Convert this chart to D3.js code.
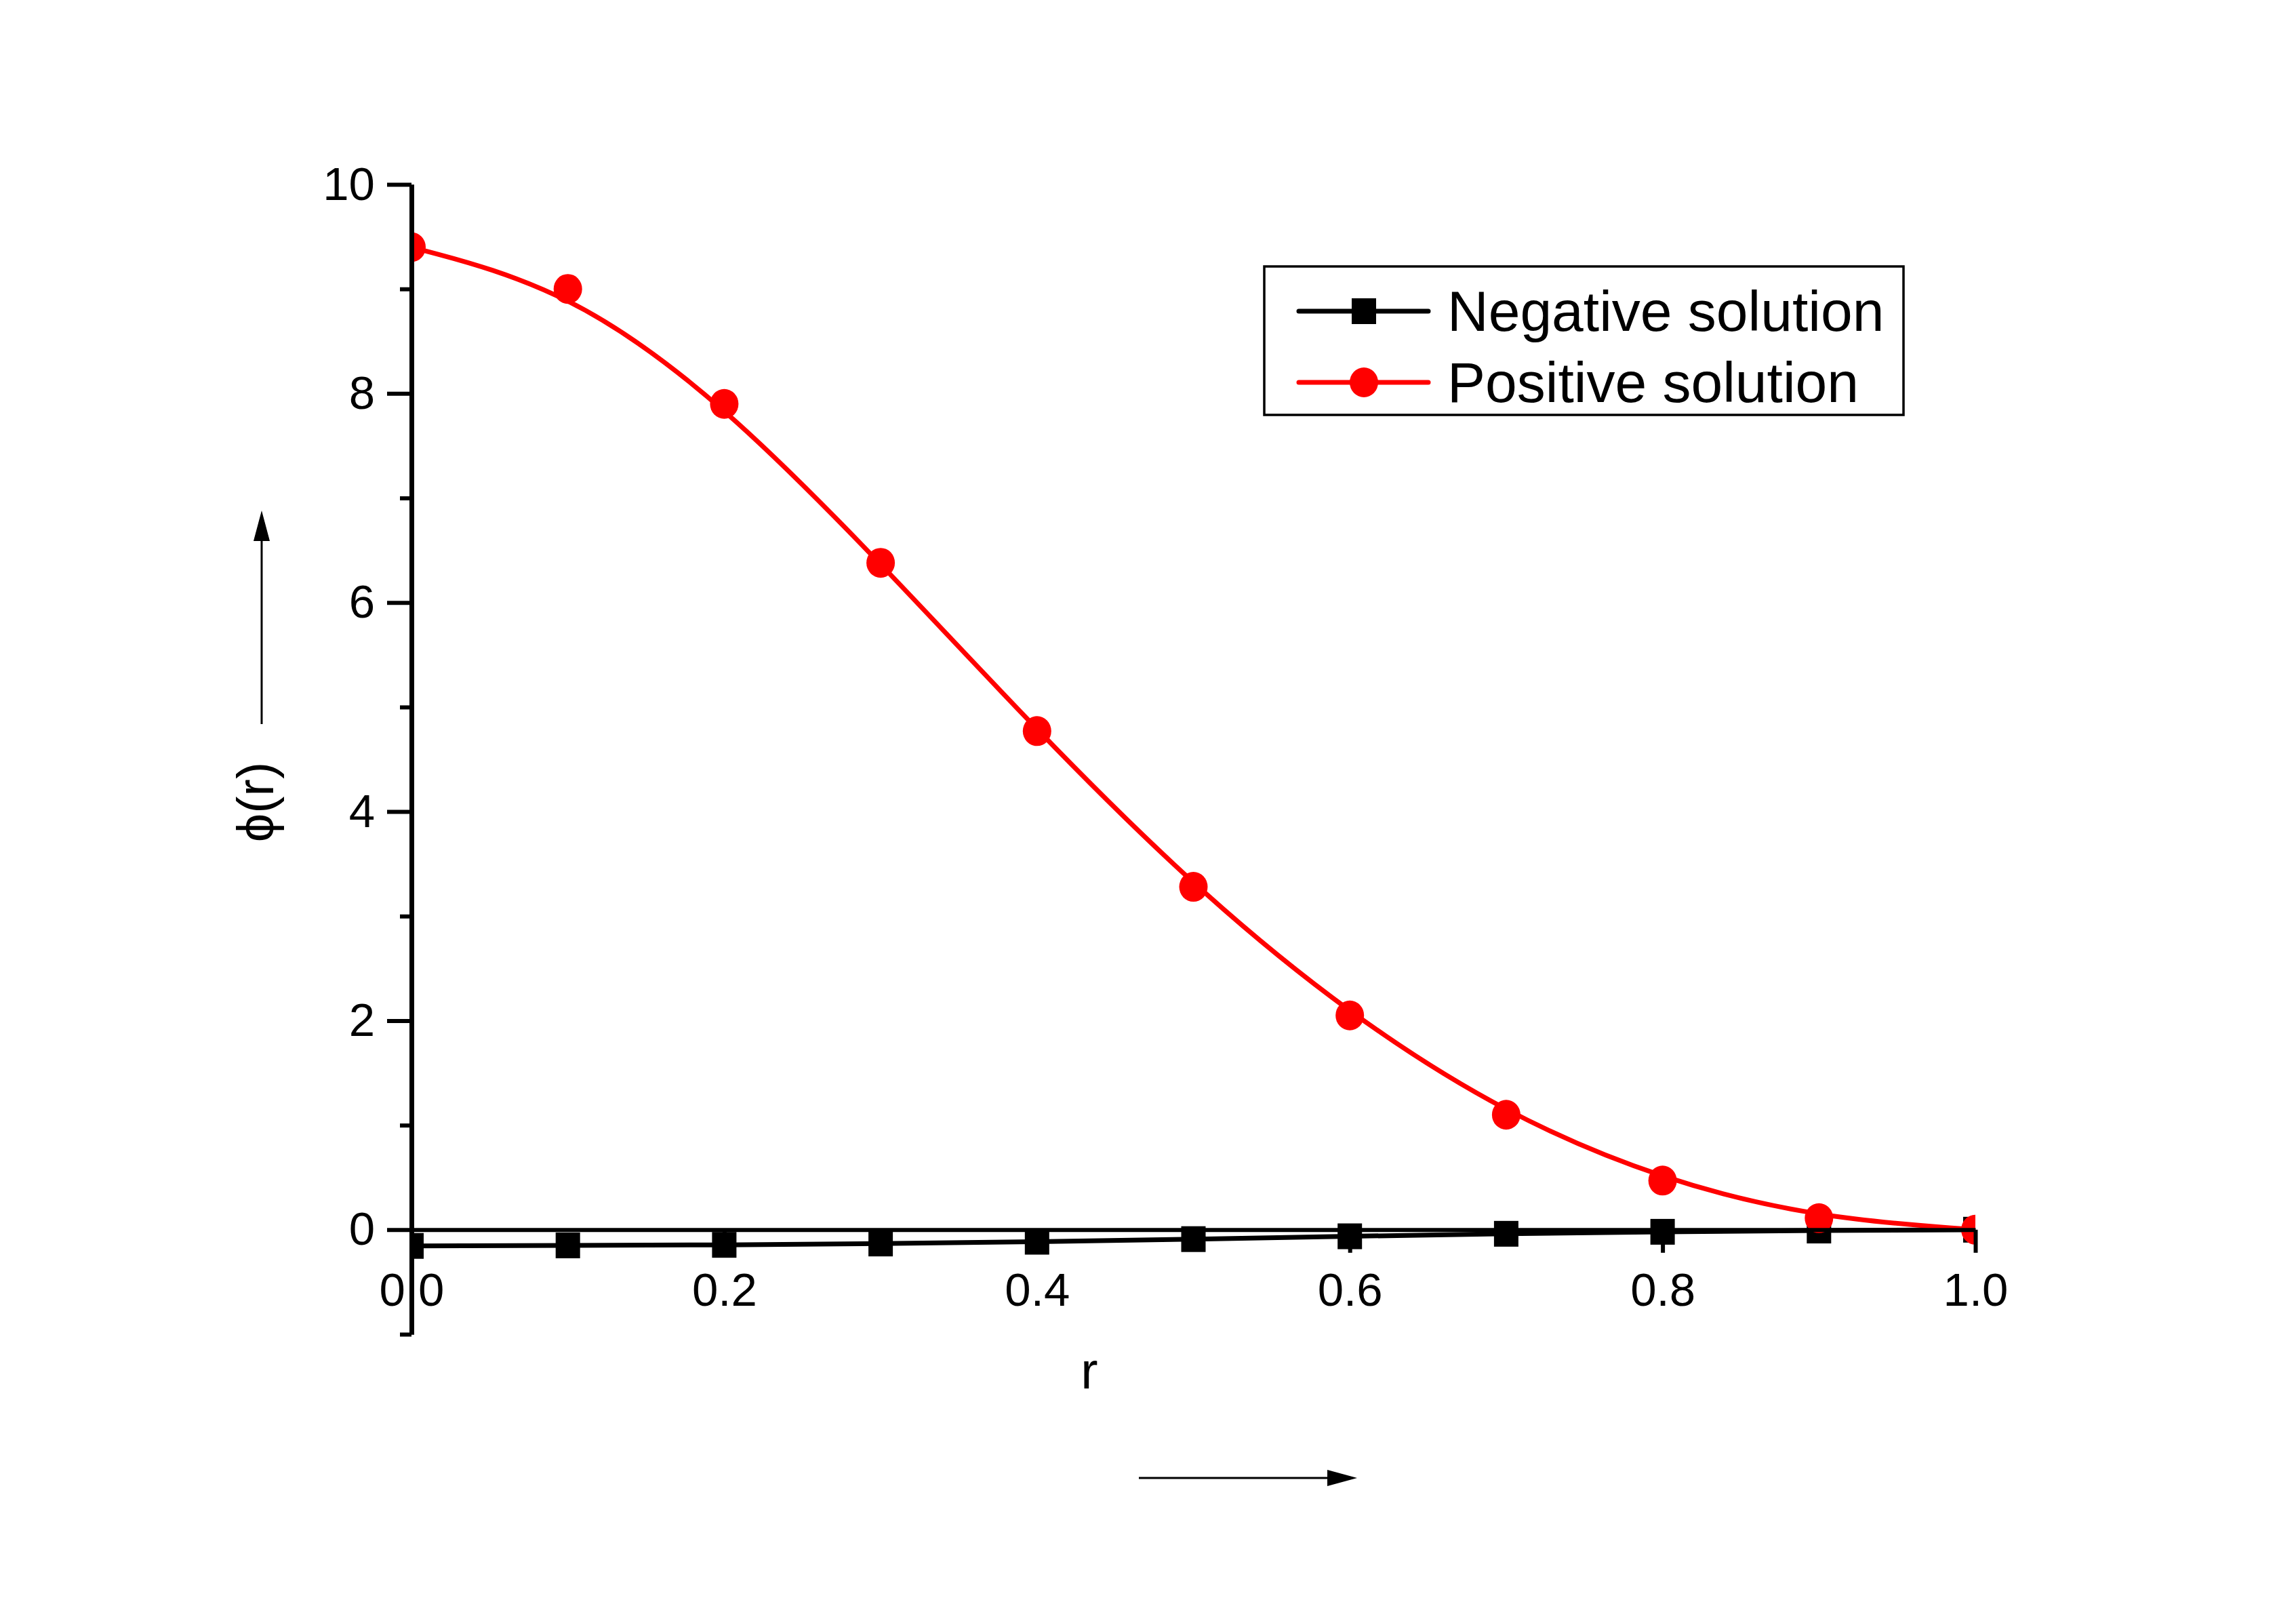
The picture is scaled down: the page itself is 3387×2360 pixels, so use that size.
<!DOCTYPE html>
<html>
<head>
<meta charset="utf-8">
<script src="https://cdn.jsdelivr.net/npm/d3@7"></script>
<style>
  body { margin: 0; background: #fff; }
  text { font-family: "Liberation Sans", Arial, sans-serif; }
</style>
</head>
<body>
<script>
// values
var rValues = [0.0, 0.1, 0.2, 0.3, 0.4, 0.5, 0.6, 0.7, 0.8, 0.9, 1.0];
var positiveSolution = [9.40, 9.00, 7.90, 6.38, 4.77, 3.28, 2.05, 1.10, 0.47, 0.11, 0.0];
var negativeSolution = [-0.155, -0.150, -0.145, -0.132, -0.115, -0.090, -0.063, -0.039, -0.020, -0.008, 0.0];
var xTicks = [0.0, 0.2, 0.4, 0.6, 0.8, 1.0];
var yMajorTicks = [0, 2, 4, 6, 8, 10];
var yMinorTicks = [-1, 1, 3, 5, 7, 9];
var seriesNames = ["Negative solution", "Positive solution"];
var seriesColors = ["#000000", "#ff0000"];

var width = 3387, height = 2360;

var svg = d3.select("body")
	.append("svg")
	.attr("width", width)
	.attr("height", height);

svg.append("rect")
	.attr("width", width)
	.attr("height", height)
	.attr("fill", "#fff");

var xScale = d3.scaleLinear().domain([0, 1]).range([607, 2914]);
var yScale = d3.scaleLinear().domain([-1, 10]).range([1968, 272]);

var negData = rValues.map(function(r, i){ return {r: r, v: negativeSolution[i]}; });
var posData = rValues.map(function(r, i){ return {r: r, v: positiveSolution[i]}; });

// clip to the plot area (markers at r=0 and r=1 are cut in half)
svg.append("clipPath")
	.attr("id", "plotClip")
	.append("rect")
	.attr("x", xScale(0))
	.attr("y", yScale(10))
	.attr("width", xScale(1) - xScale(0))
	.attr("height", yScale(-1) - yScale(10));

var plot = svg.append("g").attr("clip-path", "url(#plotClip)");

// negative solution : straight segments + squares
plot.append("path")
	.datum(negData)
	.attr("fill", "none")
	.attr("stroke", seriesColors[0])
	.attr("stroke-width", 7)
	.attr("d", d3.line()
		.x(function(d){ return xScale(d.r); })
		.y(function(d){ return yScale(d.v); }));

plot.selectAll(".sq")
	.data(negData)
	.enter().append("rect")
	.attr("class", "sq")
	.attr("x", function(d){ return xScale(d.r) - 18; })
	.attr("y", function(d){ return yScale(d.v) - 19; })
	.attr("width", 36)
	.attr("height", 38)
	.attr("fill", seriesColors[0]);

// x axis sits on y = 0
var xAxis = svg.append("g")
	.attr("transform", "translate(0," + yScale(0) + ")")
	.call(d3.axisBottom(xScale)
		.tickValues(xTicks)
		.tickFormat(d3.format(".1f"))
		.tickSize(34)
		.tickSizeOuter(0)
		.tickPadding(29));
xAxis.select(".domain").attr("stroke-width", 6);
xAxis.selectAll(".tick line").attr("stroke-width", 6);
xAxis.selectAll("text")
	.attr("font-size", 69)
	.attr("font-family", "'Liberation Sans', Arial, sans-serif");

// positive solution : spline + circles
plot.append("path")
	.datum(posData)
	.attr("fill", "none")
	.attr("stroke", seriesColors[1])
	.attr("stroke-width", 7)
	.attr("d", d3.line()
		.curve(d3.curveBasis)
		.x(function(d){ return xScale(d.r); })
		.y(function(d){ return yScale(d.v); }));

plot.selectAll(".dot")
	.data(posData)
	.enter().append("ellipse")
	.attr("class", "dot")
	.attr("cx", function(d){ return xScale(d.r); })
	.attr("cy", function(d){ return yScale(d.v); })
	.attr("rx", 21)
	.attr("ry", 22)
	.attr("fill", seriesColors[1]);

// y axis, minor ticks first then major with labels
var yMinor = svg.append("g")
	.attr("transform", "translate(" + xScale(0) + ",0)")
	.call(d3.axisLeft(yScale)
		.tickValues(yMinorTicks)
		.tickFormat("")
		.tickSize(17)
		.tickSizeOuter(0));
yMinor.selectAll(".tick line").attr("stroke-width", 6);
yMinor.select(".domain").attr("stroke-width", 7);

var yMajor = svg.append("g")
	.attr("transform", "translate(" + xScale(0) + ",0)")
	.call(d3.axisLeft(yScale)
		.tickValues(yMajorTicks)
		.tickFormat(d3.format("d"))
		.tickSize(36)
		.tickSizeOuter(0)
		.tickPadding(18));
yMajor.select(".domain").attr("stroke-width", 7);
yMajor.selectAll(".tick line").attr("stroke-width", 6);
yMajor.selectAll("text")
	.attr("font-size", 69)
	.attr("font-family", "'Liberation Sans', Arial, sans-serif");

// axis titles
svg.append("text")
	.attr("x", 1607)
	.attr("y", 2048)
	.attr("text-anchor", "middle")
	.attr("font-size", 76)
	.attr("fill", "#000")
	.text("r");

svg.append("text")
	.attr("transform", "translate(403,1183) rotate(-90)")
	.attr("text-anchor", "middle")
	.attr("font-size", 76)
	.attr("fill", "#000")
	.text("ϕ(r)");

// arrows next to the axis titles
svg.append("line")
	.attr("x1", 386).attr("y1", 1068)
	.attr("x2", 386).attr("y2", 795)
	.attr("stroke", "#000")
	.attr("stroke-width", 3);
svg.append("path")
	.attr("d", "M386,753 L374,798 L398,798 Z")
	.attr("fill", "#000");

svg.append("line")
	.attr("x1", 1680).attr("y1", 2180)
	.attr("x2", 1960).attr("y2", 2180)
	.attr("stroke", "#000")
	.attr("stroke-width", 3);
svg.append("path")
	.attr("d", "M2002,2180 L1958,2168 L1958,2192 Z")
	.attr("fill", "#000");

// legend
var legend = svg.append("g");
legend.append("rect")
	.attr("x", 1865)
	.attr("y", 393)
	.attr("width", 943)
	.attr("height", 219)
	.attr("fill", "#fff")
	.attr("stroke", "#000")
	.attr("stroke-width", 3.5);

var legendRows = [459, 564];
seriesNames.forEach(function(name, i){
	var ly = legendRows[i];
	legend.append("line")
		.attr("x1", 1916).attr("x2", 2107)
		.attr("y1", ly).attr("y2", ly)
		.attr("stroke", seriesColors[i])
		.attr("stroke-width", 7)
		.attr("stroke-linecap", "round");
	if (i == 0) {
		legend.append("rect")
			.attr("x", 2012 - 18)
			.attr("y", ly - 19)
			.attr("width", 36)
			.attr("height", 38)
			.attr("fill", seriesColors[i]);
	} else {
		legend.append("ellipse")
			.attr("cx", 2012)
			.attr("cy", ly)
			.attr("rx", 21)
			.attr("ry", 22)
			.attr("fill", seriesColors[i]);
	}
	legend.append("text")
		.attr("x", 2135)
		.attr("y", ly + 29)
		.attr("font-size", 84)
		.attr("fill", "#000")
		.text(name);
});
</script>
</body>
</html>
